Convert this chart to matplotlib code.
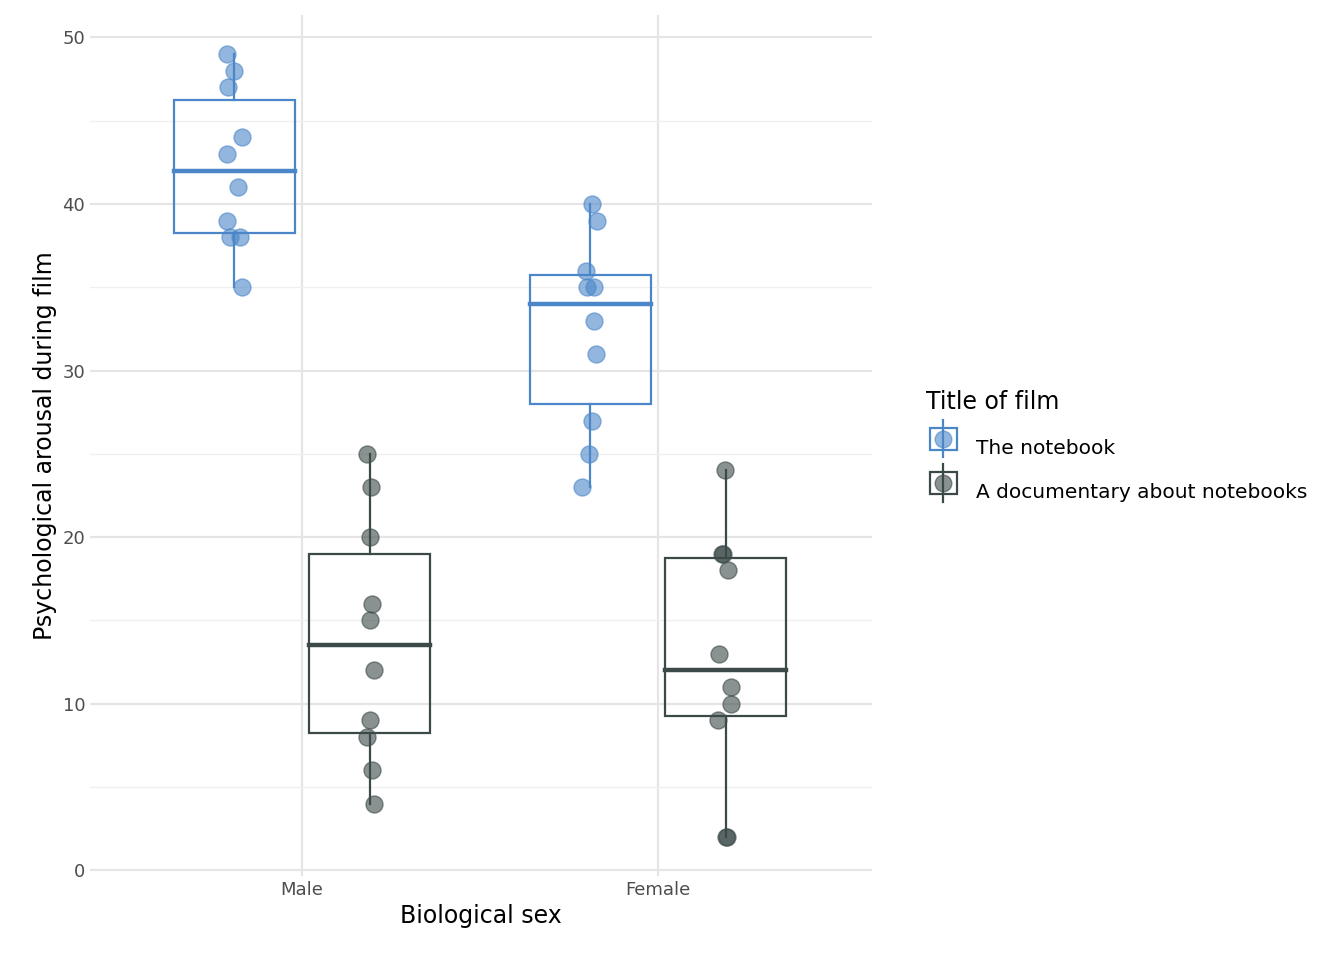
import numpy as np
import matplotlib.pyplot as plt
from matplotlib.lines import Line2D
from matplotlib.patches import Rectangle
from matplotlib.legend_handler import HandlerBase

sexes = ["Male", "Female"]
films = ["The notebook", "A documentary about notebooks"]
colors = ["#4A86C8", "#3B4A48"]

# arousal values per (sex, film)
arousal = {
    ("Male", "The notebook"): [49, 48, 47, 44, 43, 41, 39, 38, 38, 35],
    ("Male", "A documentary about notebooks"): [25, 23, 20, 16, 15, 12, 9, 8, 6, 4],
    ("Female", "The notebook"): [40, 39, 36, 35, 35, 33, 31, 27, 25, 23],
    ("Female", "A documentary about notebooks"): [24, 19, 19, 18, 13, 11, 10, 9, 2, 2],
}
# horizontal jitter (px)
jitter_px = {
    ("Male", "The notebook"): [-7, 0, -6, 8, -7, 4, -7, -4, 6, 8],
    ("Male", "A documentary about notebooks"): [-3, 1, 0, 2, 0, 4, 0, -3, 2, 4],
    ("Female", "The notebook"): [2, 7, -4, -3, 4, 4, 6, 2, -1, -8],
    ("Female", "A documentary about notebooks"): [-1, -4, -3, 2, -7, 5, 5, -8, 0, 1],
}

unit = 356.0
dodge = 0.19
width = 0.34

fig = plt.figure(figsize=(13.44, 9.6), dpi=100)
ax = fig.add_axes([90/1344, 84/960, 782/1344, 861/960])

for i, s in enumerate(sexes):
    for j, f in enumerate(films):
        c = colors[j]
        x0 = i + 1 + (-dodge if j == 0 else dodge)
        v = np.array(arousal[(s, f)], dtype=float)
        q1, med, q3 = np.percentile(v, [25, 50, 75])
        iqr = q3 - q1
        lo = v[v >= q1 - 1.5*iqr].min()
        hi = v[v <= q3 + 1.5*iqr].max()
        ax.add_patch(Rectangle((x0 - width/2, q1), width, q3 - q1, fill=False,
                               edgecolor=c, lw=1.6, zorder=3))
        ax.plot([x0 - width/2, x0 + width/2], [med, med], color=c, lw=3.2, zorder=3)
        ax.plot([x0, x0], [q3, hi], color=c, lw=1.6, zorder=3)
        ax.plot([x0, x0], [lo, q1], color=c, lw=1.6, zorder=3)
        xs = x0 + np.array(jitter_px[(s, f)]) / unit
        ax.scatter(xs, v, s=150, color=c, alpha=0.6, edgecolor=c, lw=1, zorder=4)

ax.set_xlim(1 - 212/unit, 2 + 214/unit)
ax.set_ylim(-0.35, 51.35)
ax.set_xticks([1, 2])
ax.set_xticklabels(sexes)
ax.set_yticks([0, 10, 20, 30, 40, 50])
ax.set_yticks([5, 15, 25, 35, 45], minor=True)
ax.grid(True, which="major", color="#E5E5E5", lw=1.6, zorder=0)
ax.grid(True, which="minor", axis="y", color="#EFEFEF", lw=0.9, zorder=0)
ax.tick_params(axis="both", which="both", length=0, labelsize=13, colors="#4D4D4D")
for sp in ax.spines.values():
    sp.set_visible(False)
ax.set_axisbelow(True)
ax.set_xlabel("Biological sex", fontsize=17)
ax.set_ylabel("Psychological arousal during film", fontsize=17)


class BoxHandler(HandlerBase):
    def create_artists(self, legend, orig, xd, yd, w, h, fs, trans):
        c = orig.get_color()
        cx, cy = xd + w/2, yd + h/2
        r = Rectangle((xd + w*0.1, yd), w*0.8, h, fill=False, edgecolor=c, lw=1.6, transform=trans)
        l1 = Line2D([cx, cx], [yd - h*0.35, yd + h*1.35], color=c, lw=1.6, transform=trans)
        m = Line2D([cx], [cy], marker="o", ms=12, color=c, alpha=0.6, transform=trans, ls="")
        return [l1, r, m]


handles = [Line2D([], [], color=c) for c in colors]
leg = fig.legend(handles, films, handler_map={Line2D: BoxHandler()},
                 loc="upper left", bbox_to_anchor=(908/1344, 1 - 372/960),
                 frameon=False, fontsize=14.5, title="Title of film",
                 title_fontsize=17, handlelength=1.7, handleheight=1.3,
                 labelspacing=1.1, alignment="left")
fig.savefig("out.png", dpi=100)
